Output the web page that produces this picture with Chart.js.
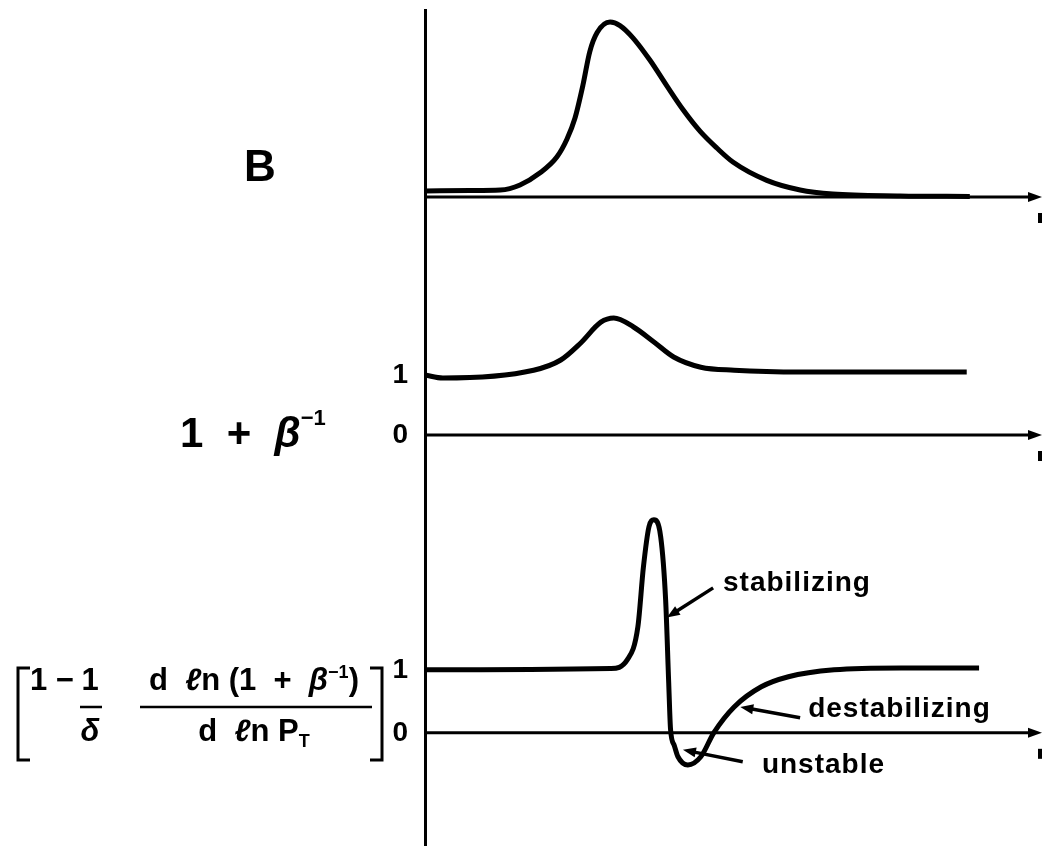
<!DOCTYPE html>
<html>
<head>
<meta charset="utf-8">
<script src="https://cdn.jsdelivr.net/npm/chart.js@4.4.0/dist/chart.umd.min.js"></script>
<style>
  html, body { margin: 0; padding: 0; background: #fff; }
  #wrap { width: 1045px; height: 850px; }
</style>
</head>
<body>
<div id="wrap"><canvas id="fig"></canvas></div>
<script>
// top panel: the peaked curve sitting on its baseline
const topX = [0, 7.3, 12.2, 15.4, 18.6, 21.4, 23.0, 24.3, 25.6, 26.7, 27.9, 30.0, 31.6, 33.7, 36.5, 39.2, 41.8, 44.6, 47.3, 49.9, 55.4, 60.8, 66.1, 77.0, 88.3];
const topY = [0.034, 0.037, 0.04, 0.069, 0.137, 0.23, 0.33, 0.45, 0.64, 0.83, 0.94, 1.0, 0.98, 0.91, 0.78, 0.635, 0.50, 0.375, 0.28, 0.20, 0.095, 0.04, 0.017, 0.006, 0.003];

// middle panel: 1 + beta^-1
const midX = [0, 2.9, 17.6, 22.0, 25.2, 28.5, 30.6, 33.8, 37.1, 40.3, 44.7, 50.1, 61.0, 87.8];
const midY = [1.0, 0.95, 1.08, 1.25, 1.53, 1.88, 1.95, 1.80, 1.55, 1.30, 1.13, 1.08, 1.05, 1.05];

// bottom panel: stability factor
const botX = [0, 30.1, 32.8, 34.5, 35.4, 36.3, 37.1, 38.2, 39.0, 39.5, 39.8, 40.4, 41.0, 42.6, 44.7, 46.8, 50.1, 54.5, 58.9, 66.3, 77.2, 89.8];
const botY = [1.0, 1.02, 1.16, 1.68, 2.63, 3.27, 3.38, 3.11, 2.11, 0.79, 0.05, -0.2, -0.38, -0.51, -0.38, 0.0, 0.41, 0.73, 0.89, 1.0, 1.03, 1.03];

const midTicks = [0, 1];
const botTicks = [0, 1];

const notes = [
  { text: 'stabilizing',   tx: 48.3, ty: 2.38,  from: [46.7, 2.30],  to: [39.2, 1.83] },
  { text: 'destabilizing', tx: 62.1, ty: 0.37,  from: [60.8, 0.24],  to: [51.1, 0.41] },
  { text: 'unstable',      tx: 54.6, ty: -0.51, from: [51.5, -0.46], to: [41.8, -0.27] }
];

const pts = (xs, ys) => xs.map((x, i) => ({ x: x, y: ys[i] }));
const ink = '#000';
const FAM = '"Liberation Sans", Arial, sans-serif';

Chart.defaults.font.family = FAM;
Chart.defaults.color = ink;

function head(ctx, x0, y0, x1, y1, len, half) {
  const a = Math.atan2(y1 - y0, x1 - x0);
  const c = Math.cos(a), s = Math.sin(a);
  ctx.beginPath();
  ctx.moveTo(x1, y1);
  ctx.lineTo(x1 - len * c + half * s, y1 - len * s - half * c);
  ctx.lineTo(x1 - len * c - half * s, y1 - len * s + half * c);
  ctx.closePath();
  ctx.fill();
}

function run(ctx, x, y, parts) {
  for (const p of parts) {
    ctx.font = p.f;
    ctx.fillText(p.t, x, y + (p.dy || 0));
    x += ctx.measureText(p.t).width;
  }
  return x;
}
function runWidth(ctx, parts) {
  let w = 0;
  for (const p of parts) { ctx.font = p.f; w += ctx.measureText(p.t).width; }
  return w;
}

const figure = {
  id: 'figure',
  afterDraw(chart) {
    const ctx = chart.ctx;
    const area = chart.chartArea;
    const sc = chart.scales;
    ctx.save();
    ctx.fillStyle = ink;
    ctx.strokeStyle = ink;
    ctx.lineCap = 'butt';

    // zero lines with arrowheads
    ['yTop', 'yMid', 'yBot'].forEach(id => {
      const y = sc[id].getPixelForValue(0);
      ctx.lineWidth = 3;
      ctx.beginPath();
      ctx.moveTo(area.left, y);
      ctx.lineTo(area.right - 8, y);
      ctx.stroke();
      head(ctx, area.left, y, area.right, y, 14, 5);
      ctx.fillRect(area.right - 4, y + 16, 4, 10);
    });

    // annotations
    ctx.textBaseline = 'middle';
    ctx.textAlign = 'left';
    ctx.font = 'bold 28px ' + FAM;
    ctx.letterSpacing = '1px';
    notes.forEach(n => {
      const x = sc.x, y = sc.yBot;
      ctx.fillText(n.text, x.getPixelForValue(n.tx), y.getPixelForValue(n.ty));
      const x0 = x.getPixelForValue(n.from[0]), y0 = y.getPixelForValue(n.from[1]);
      const x1 = x.getPixelForValue(n.to[0]), y1 = y.getPixelForValue(n.to[1]);
      ctx.lineWidth = 3.5;
      ctx.beginPath();
      ctx.moveTo(x0, y0);
      ctx.lineTo(x1 + (x0 - x1) * 0.15, y1 + (y0 - y1) * 0.15);
      ctx.stroke();
      head(ctx, x0, y0, x1, y1, 13, 5);
    });
    ctx.letterSpacing = '0px';

    // panel labels
    ctx.textBaseline = 'alphabetic';
    ctx.font = 'bold 44px ' + FAM;
    ctx.fillText('B', 244, 181);

    const yMid0 = sc.yMid.getPixelForValue(0);
    run(ctx, 180, yMid0 + 12, [
      { t: '1  +  ', f: 'bold 42px ' + FAM },
      { t: 'β', f: 'italic bold 42px ' + FAM },
      { t: '−1', f: 'bold 22px ' + FAM, dy: -22 }
    ]);

    // bracketed stability expression
    const F = 'bold 31px ' + FAM, FI = 'italic bold 31px ' + FAM, FS = 'bold 18px ' + FAM;
    const top = 668, bot = 760, bar = 707, nb = 690, db = 741;
    ctx.lineWidth = 3;
    ctx.beginPath();
    ctx.moveTo(30, top); ctx.lineTo(18, top); ctx.lineTo(18, bot); ctx.lineTo(30, bot);
    ctx.moveTo(370, top); ctx.lineTo(382, top); ctx.lineTo(382, bot); ctx.lineTo(370, bot);
    ctx.stroke();
    run(ctx, 30, nb, [{ t: '1 −', f: F }]);
    ctx.textAlign = 'center';
    ctx.font = F; ctx.fillText('1', 90, nb);
    ctx.font = FI; ctx.fillText('δ', 90, db);
    ctx.textAlign = 'left';
    ctx.lineWidth = 2.5;
    ctx.beginPath();
    ctx.moveTo(80, bar); ctx.lineTo(102, bar);
    ctx.moveTo(140, bar); ctx.lineTo(372, bar);
    ctx.stroke();
    const num = [
      { t: 'd  ', f: F }, { t: 'ℓ', f: FI }, { t: 'n (1  +  ', f: F },
      { t: 'β', f: FI }, { t: '−1', f: FS, dy: -12 }, { t: ')', f: F }
    ];
    const den = [
      { t: 'd  ', f: F }, { t: 'ℓ', f: FI }, { t: 'n P', f: F }, { t: 'T', f: FS, dy: 6 }
    ];
    run(ctx, 254 - runWidth(ctx, num) / 2, nb, num);
    run(ctx, 254 - runWidth(ctx, den) / 2, db, den);

    ctx.restore();
  }
};

function yAxis(min, max, weight, ticks) {
  return {
    type: 'linear',
    position: 'left',
    stack: 'panels',
    stackWeight: weight,
    min: min,
    max: max,
    afterBuildTicks: s => { s.ticks = ticks.map(v => ({ value: v })); },
    afterFit: s => { s.width = 60; s.paddingTop = 0; s.paddingBottom = 0; },
    grid: { display: false, drawTicks: false },
    border: { display: true, color: ink, width: 3 },
    ticks: {
      display: ticks.length > 0,
      padding: 17,
      color: ink,
      font: { size: 28, weight: 'bold' }
    }
  };
}

const curve = (data, axis) => ({
  data: data,
  yAxisID: axis,
  borderColor: ink,
  borderWidth: 5,
  pointRadius: 0,
  fill: false,
  cubicInterpolationMode: 'monotone'
});

new Chart(document.getElementById('fig'), {
  type: 'line',
  data: {
    datasets: [
      curve(pts(topX, topY), 'yTop'),
      curve(pts(midX, midY), 'yMid'),
      curve(pts(botX, botY), 'yBot')
    ]
  },
  options: {
    responsive: true,
    maintainAspectRatio: false,
    animation: false,
    layout: { padding: { left: 365, right: 3, top: 10, bottom: 5 } },
    plugins: { legend: { display: false }, tooltip: { enabled: false } },
    scales: {
      x: { type: 'linear', min: 0, max: 100, display: false },
      // left stacks are laid out in reverse order: last one sits on top
      yBot: yAxis(-1.78, 4.17, 375, botTicks),
      yMid: yAxis(-0.583, 3.083, 220, midTicks),
      yTop: yAxis(-0.303, 1.069, 240, [])
    }
  },
  plugins: [figure]
});
</script>
</body>
</html>
